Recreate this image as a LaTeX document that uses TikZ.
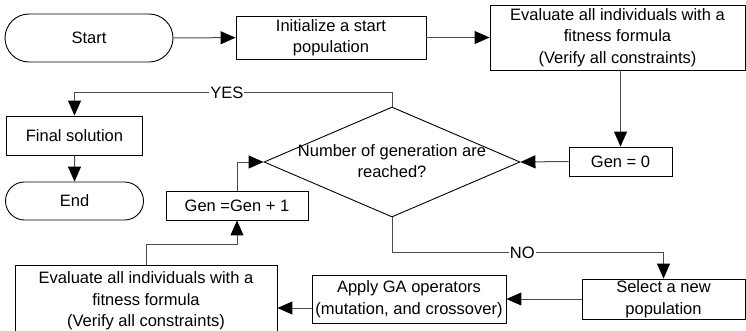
\documentclass[tikz,border=0pt]{standalone}
\usepackage{fontspec}
\setmainfont{Liberation Sans}
\usetikzlibrary{arrows.meta, positioning, shapes.geometric, shapes.misc}

\begin{document}
\begin{tikzpicture}[
    x=1pt, y=-1pt,
    every node/.style={font=\fontsize{16.5}{21.5}\selectfont},
    box/.style={draw, line width=0.9pt, rectangle, align=center, inner sep=1pt},
    terminal/.style={draw, line width=0.9pt, rounded rectangle, inner sep=1pt},
    decision/.style={draw, line width=0.9pt, diamond, inner sep=0pt},
    flow/.style={draw=black!70, line width=1pt, -{Triangle[length=15pt, width=13pt, color=black]}},
    answer/.style={fill=white, inner sep=1pt}
]
\useasboundingbox (0,0) rectangle (746,330);

% Top row
\node[terminal, minimum width=170pt, minimum height=48pt] (start) at (89,38) {Start};
\node[box, minimum width=190pt, minimum height=43pt] (init) at (331,37.5) {Initialize a start\\population};
\node[box, minimum width=255pt, minimum height=65pt] (evalA) at (617.5,37.5) {Evaluate all individuals with a\\fitness formula\\(Verify all constraints)};

% Middle row
\node[box, minimum width=103pt, minimum height=29pt] (gen0) at (620.5,161.5) {Gen = 0};
\node[decision, minimum width=256pt, minimum height=110pt] (check) at (392,162) {};
\node[align=center] (checktext) at (392,161) {Number of generation are\\reached?};
\node[box, minimum width=136pt, minimum height=39pt] (final) at (74.5,135.5) {Final solution};
\node[terminal, minimum width=140pt, minimum height=38pt] (stop) at (74.5,201) {End};
\node[box, minimum width=142pt, minimum height=29pt] (incr) at (237,205.5) {Gen =Gen + 1};

% Bottom row
\node[box, minimum width=163pt, minimum height=40pt] (select) at (663.5,299) {Select a new\\population};
\node[box, minimum width=194pt, minimum height=48pt] (apply) at (409,299) {Apply GA operators\\(mutation, and crossover)};
\node[box, minimum width=262pt, minimum height=72pt] (evalB) at (146,301) {Evaluate all individuals with a\\fitness formula\\(Verify all constraints)};

% Connectors
\draw[flow] (start) -- (init);
\draw[flow] (init) -- (evalA);
\draw[flow] (evalA.south -| gen0) -- (gen0);
\draw[flow] (gen0.west) -- (check.east);
\draw[flow] (check.north) -- ++(0,-14) -| node[answer, pos=0.26] (yes) {YES} (final.north);
\draw[flow] (final) -- (stop);
\draw[flow] (check.south) -- ++(0,35) -| node[answer, pos=0.24] (no) {NO} (select.north);
\draw[flow] (select) -- (apply);
\draw[flow] ([yshift=-9pt]apply.west) -- ([yshift=-9pt]apply.west -| evalB.east);
\draw[flow] (evalB.north) -- ++(0,-20) -| (incr.south);
\draw[flow] (incr.north) |- (check.west);

\end{tikzpicture}
\end{document}
